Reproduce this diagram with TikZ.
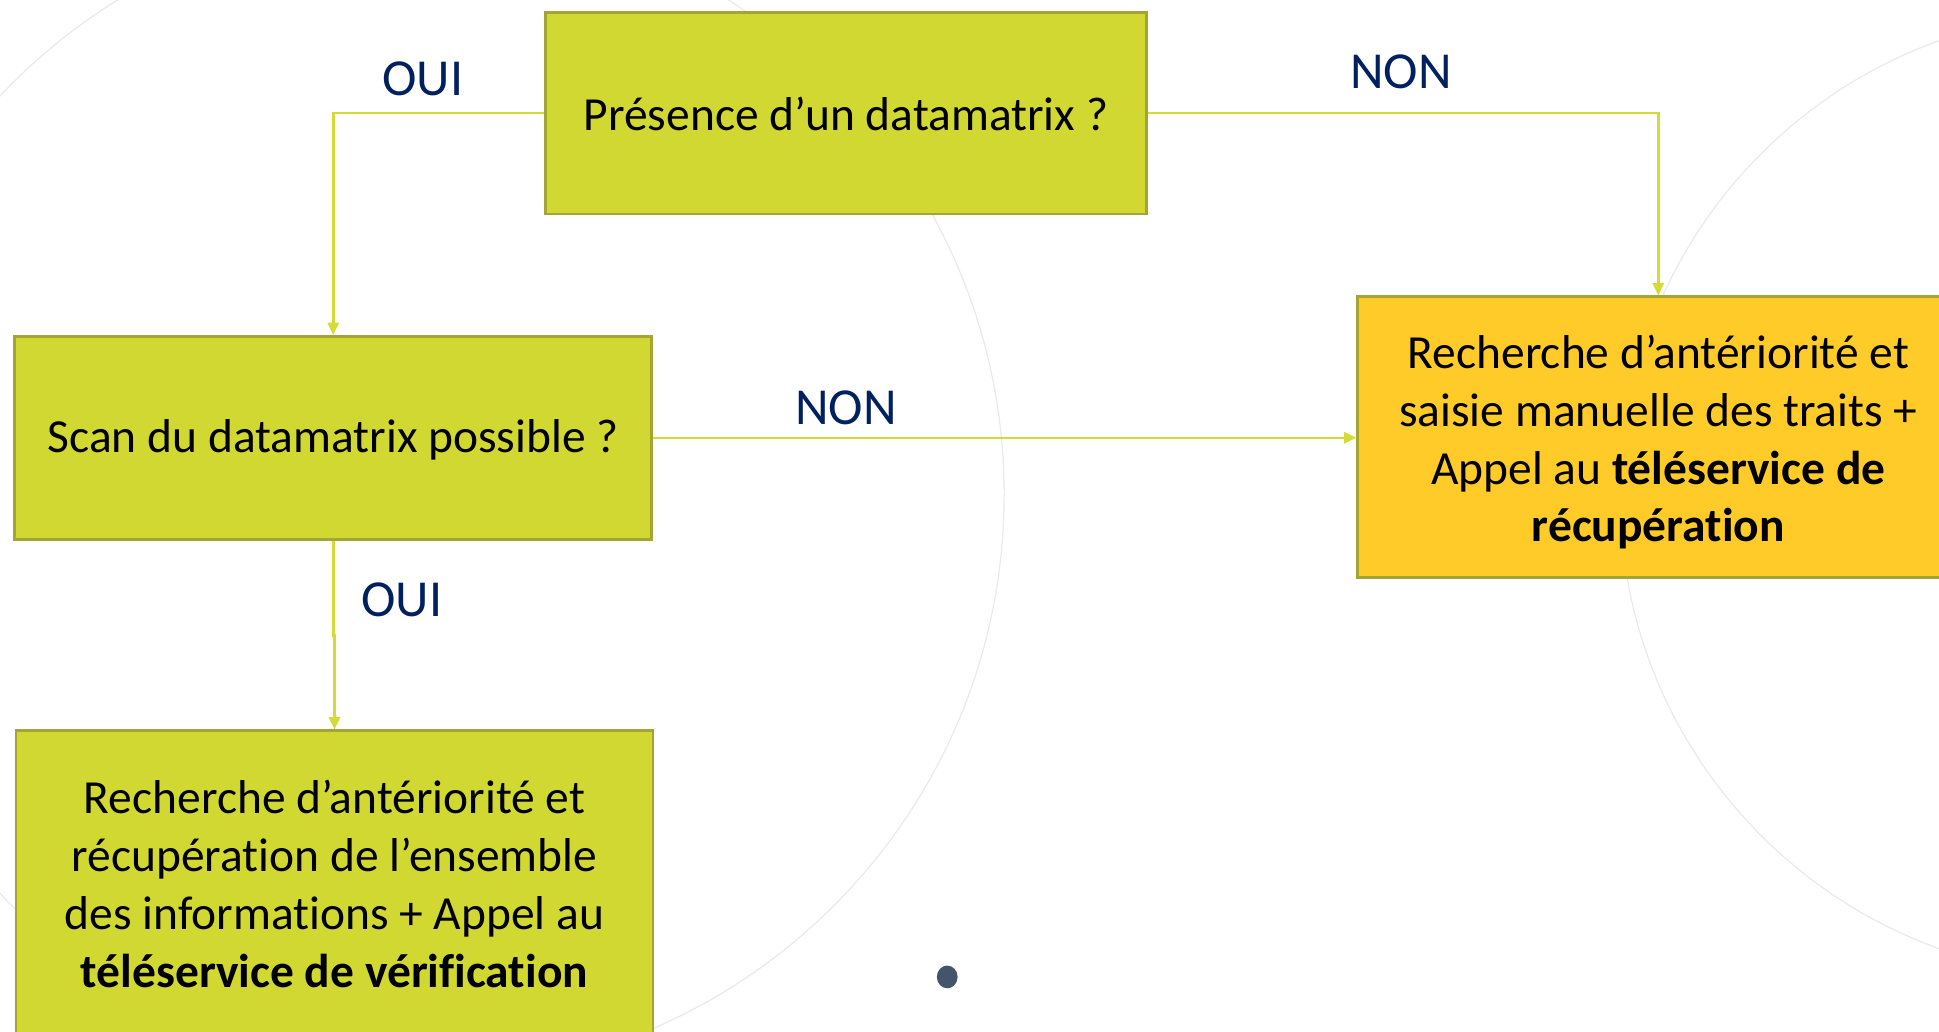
\documentclass[tikz,border=0pt]{standalone}
\usepackage{fontspec}
\setmainfont{Carlito}[Ligatures={NoCommon}]
\usetikzlibrary{arrows.meta}
\definecolor{boxgreen}{RGB}{210,216,50}
\definecolor{boxorange}{RGB}{255,203,40}
\definecolor{boxborder}{RGB}{163,166,52}
\definecolor{linegreen}{RGB}{212,219,52}
\definecolor{labelblue}{RGB}{0,32,96}
\definecolor{dotgray}{RGB}{68,84,106}
\definecolor{faint}{RGB}{234,234,234}
\begin{document}
\begin{tikzpicture}[x=0.5pt,y=-0.5pt,
 box/.style={draw=boxborder, line width=1.1pt, fill=boxgreen, align=center, inner sep=0pt, font=\fontsize{19.2}{23.4}\selectfont, text=black},
 boxtext/.style={align=center, inner sep=0pt, font=\fontsize{19.2}{23.4}\selectfont, text=black},
 conn/.style={draw=linegreen, line width=1pt, -{Triangle[length=5pt,width=4.5pt]}},
 lab/.style={text=labelblue, font=\fontsize{21}{25}\selectfont, inner sep=0pt},
 bgcircle/.style={draw=faint, line width=0.5pt}]
\useasboundingbox (0,0) rectangle (1568,834);
\begin{scope}
\clip (0,0) rectangle (1568,834);
\draw[bgcircle] (342,400) circle[radius=235pt];
\draw[bgcircle] (1700,400) circle[radius=195pt];

\node[box, minimum width=243pt, minimum height=81.5pt] (b1) at (684,91.5) {};
\node[boxtext] (t1) at ([yshift=-0.5pt]b1.center) {Présence d’un datamatrix ?};
\node[box, minimum width=257.5pt, minimum height=82pt] (b2) at (269.5,354) {};
\node[boxtext] (t2) at ([yshift=-1pt]b2.center) {Scan du datamatrix possible ?};
\node[box, minimum width=257.5pt, minimum height=124pt] (b3) at (270.5,715) {};
\node[boxtext] (t3) at (b3.center) {Recherche d’antériorité et\\récupération de l’ensemble\\des informations + Appel au\\\textbf{téléservice de vérification}};
\node[box, fill=boxorange, minimum width=243pt, minimum height=113.5pt] (b4) at (1341,353.5) {};
\node[boxtext] (t4) at ([yshift=-2pt]b4.center) {Recherche d’antériorité et\\saisie manuelle des traits +\\Appel au \textbf{téléservice de}\\\textbf{récupération}};

\coordinate (m) at (269.5,514);
\draw[conn] (b1.west) -| (b2.north);
\draw[conn] (b1.east) -| (b4.north);
\draw[conn] (b2.east) -- (b2.east -| b4.west);
\draw[conn] (b2.south) -- (m) -| (b3.north);

\node[lab] (l1) at (342,64) {OUI};
\node[lab] (l2) at (1133,58) {NON};
\node[lab] (l3) at (684,330) {NON};
\node[lab] (l4) at (325,485) {OUI};

\fill[dotgray] (766,790) ellipse[x radius=4.2pt, y radius=4.6pt];
\end{scope}
\end{tikzpicture}
\end{document}
